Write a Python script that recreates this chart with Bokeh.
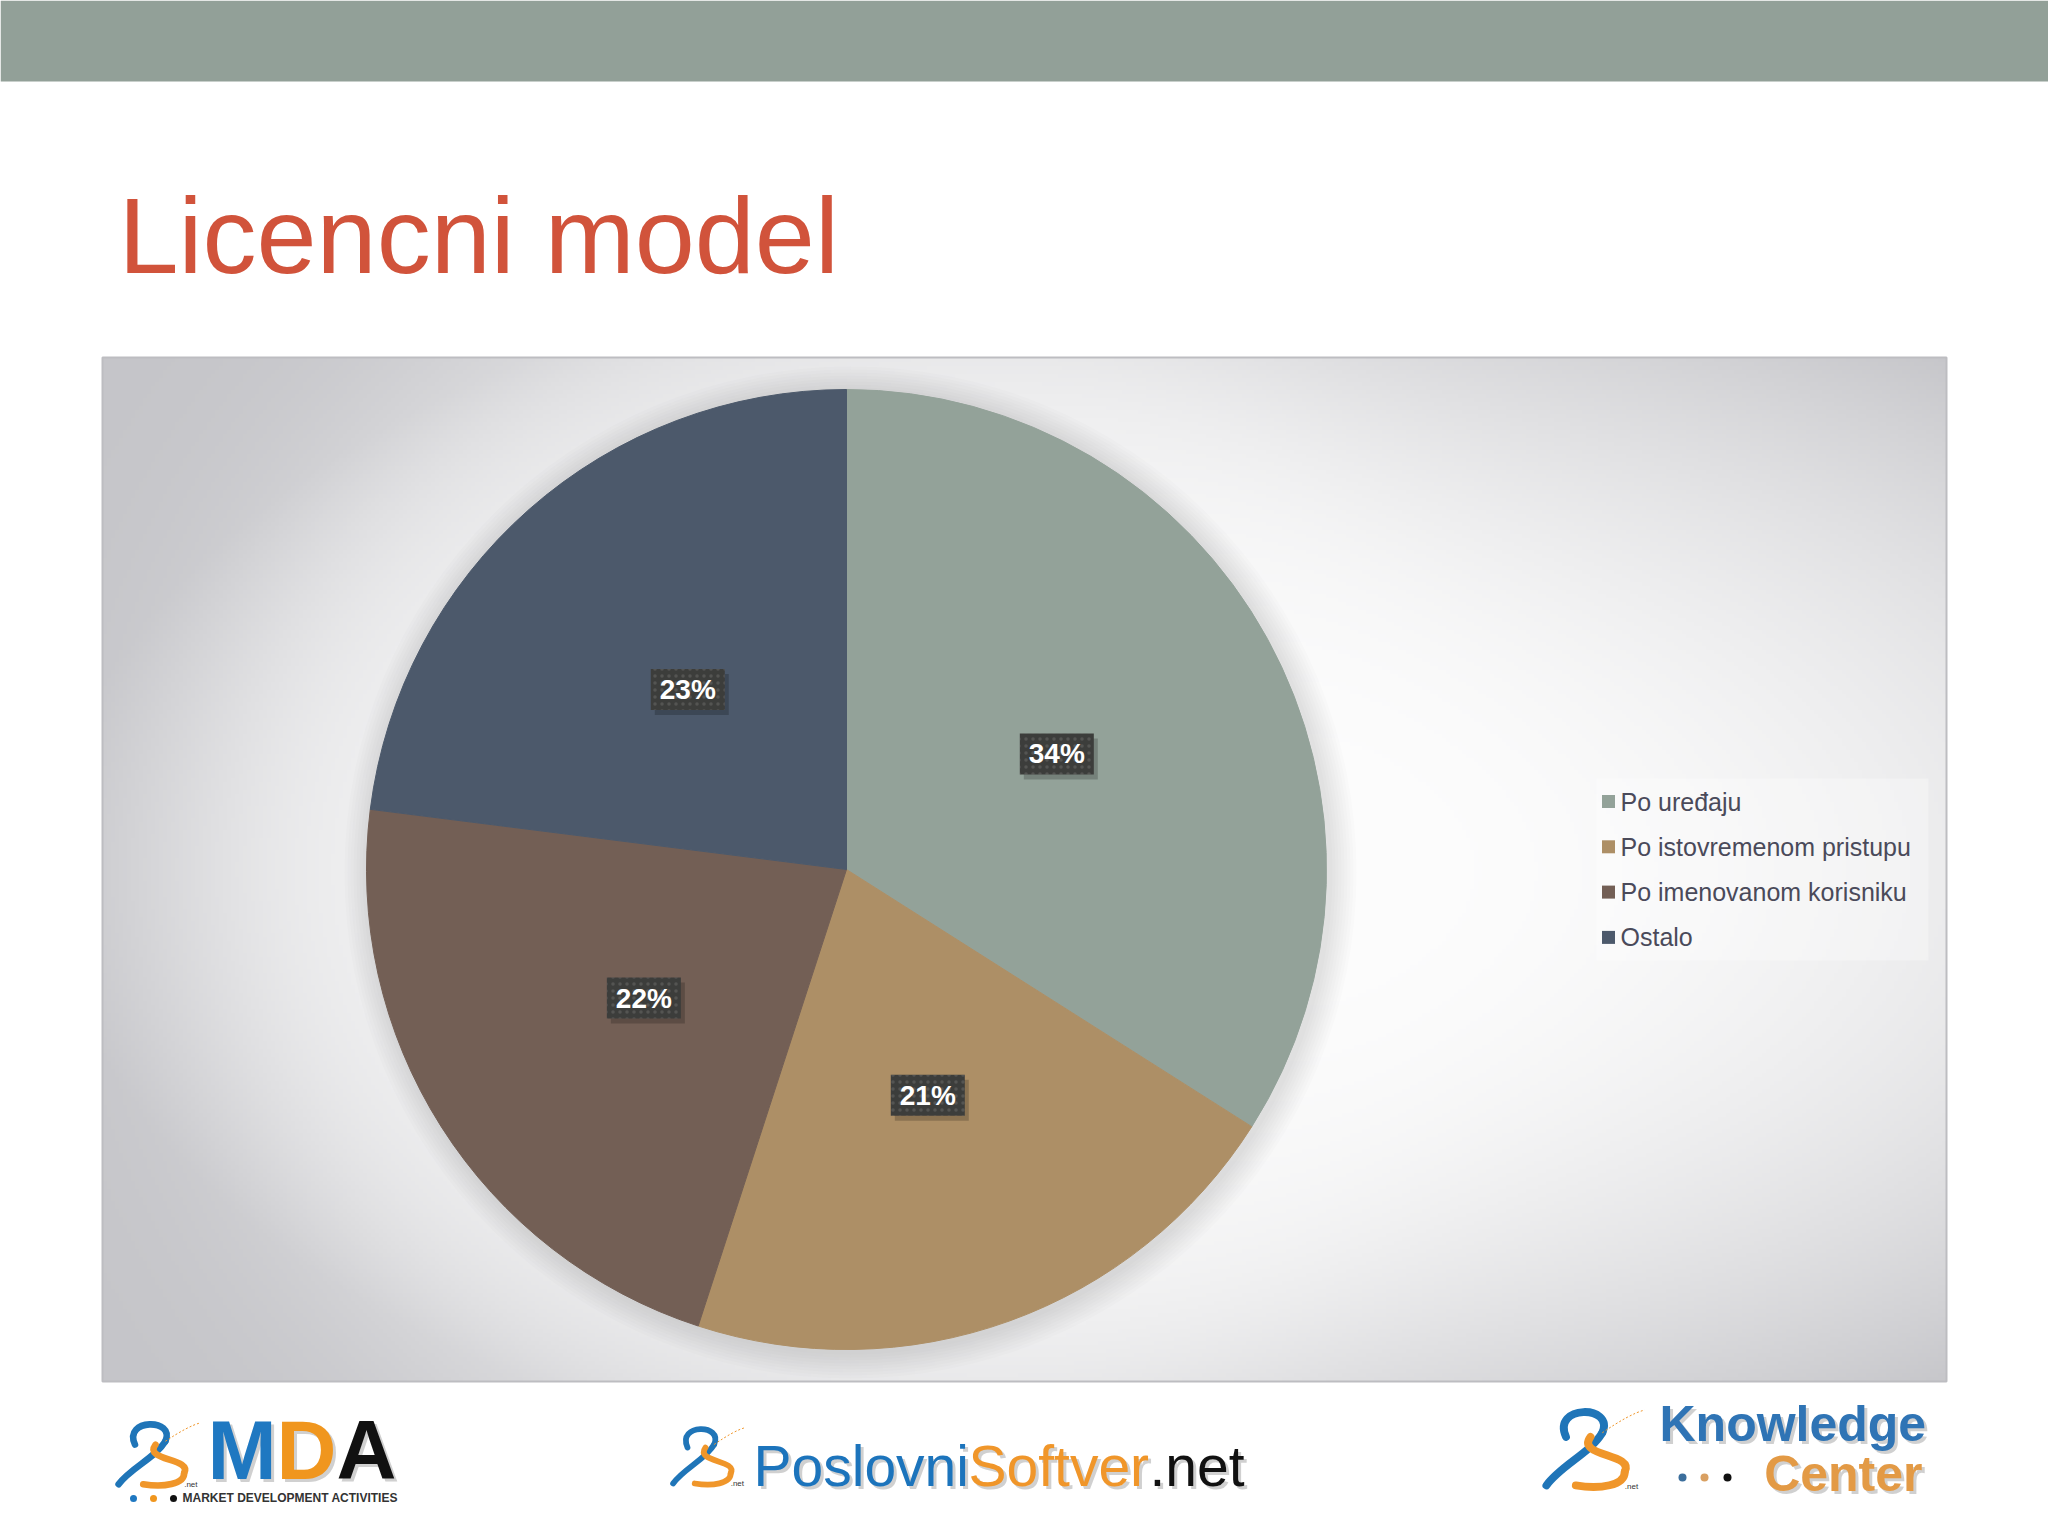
import numpy as np
from bokeh.plotting import figure
from bokeh.models import Range1d, ColumnDataSource
from bokeh.core.properties import value
from bokeh.embed import file_html
from bokeh.resources import INLINE

# ---------------- data ----------------
title_text = "Licencni model"
categories = ["Po uređaju", "Po istovremenom pristupu", "Po imenovanom korisniku", "Ostalo"]
shares = [34, 21, 22, 23]
pct_labels = ["34%", "21%", "22%", "23%"]
colors = ["#93A299", "#AD8F66", "#735F55", "#4C596B"]

FONT = value("Liberation Sans")
SHIFT = 0.36  # empirical baseline correction (fraction of font size)


def bl(y, size):
    """data y for a desired alphabetic baseline at page pixel y"""
    return -(np.asarray(y, dtype=float) - SHIFT * size)


# ---------------- figure (data units = page pixels, y negated) ----------------
PW, PH = 2048, 1520
p = figure(width=PW, height=PH, x_range=Range1d(0, PW), y_range=Range1d(-PH, 0),
           output_backend="svg", toolbar_location=None, min_border=0,
           x_axis_location=None, y_axis_location=None)
p.grid.visible = False
p.outline_line_color = None
p.background_fill_color = "white"
p.border_fill_color = "white"

# top bar
p.quad(left=0, right=PW, top=0, bottom=-81, fill_color="#92A098", line_color=None)

# title
p.text(x=[118], y=[bl(274, 108)], text=[title_text], text_font=FONT, text_font_size="108px",
       text_color="#D1533B", text_baseline="alphabetic", text_align="left")

# ---------------- chart area background ----------------
CX0, CY0, CW, CH = 102, 357, 1844, 1024
PCX, PCY, R = 846, 869, 480
nx, ny = 461, 256
xs = CX0 + (np.arange(nx) + 0.5) * CW / nx
ys = CY0 + CH - (np.arange(ny) + 0.5) * CH / ny
X, Y = np.meshgrid(xs, ys)
d = np.sqrt(((X - 1250) / 1200) ** 2 + ((Y - 870) / 640) ** 2)
t = np.clip(d, 0, 1) ** 2.2
rp = np.sqrt((X - PCX) ** 2 + (Y - PCY) ** 2)
glow = 0.5 * np.exp(-(np.maximum(rp - R, 0) / 200.0) ** 2)
t = t * (1 - glow)
img = np.empty((ny, nx), dtype=np.uint32)
view = img.view(dtype=np.uint8).reshape((ny, nx, 4))
view[..., 0] = (253 - 56 * t).astype(np.uint8)
view[..., 1] = (253 - 56 * t).astype(np.uint8)
view[..., 2] = (253 - 52 * t).astype(np.uint8)
view[..., 3] = 255
p.image_rgba(image=[img], x=CX0, y=-(CY0 + CH), dw=CW, dh=CH)
p.quad(left=CX0, right=CX0 + CW, top=-CY0, bottom=-(CY0 + CH), fill_color=None,
       line_color="#BDBDC1", line_width=2)

# soft pie shadow
for k in range(9):
    p.circle(x=[PCX + 4], y=[-(PCY + 3)], radius=R + 2 + 3 * k, fill_color="#8C8C8C",
             fill_alpha=0.022, line_color=None)

# ---------------- pie ----------------
frac = np.array(shares, dtype=float) / sum(shares)
cum = np.concatenate([[0.0], np.cumsum(frac)])
start = np.pi / 2 - 2 * np.pi * cum[:-1]
end = np.pi / 2 - 2 * np.pi * cum[1:]
src = ColumnDataSource(dict(start=start, end=end, color=colors, cat=categories))
p.wedge(x=PCX, y=-PCY, radius=R, start_angle="start", end_angle="end", direction="clock",
        fill_color="color", line_color="color", line_width=1, source=src)

# data labels
mid = (start + end) / 2
lx = PCX + 0.5 * R * np.cos(mid)
ly = -PCY + 0.5 * R * np.sin(mid)
p.rect(x=lx + 4, y=ly - 5, width=74, height=41, fill_color="black", fill_alpha=0.2, line_color=None)
p.rect(x=lx, y=ly, width=74, height=41, fill_color="#3C3D3B", line_color=None,
       hatch_pattern="dot", hatch_color="#8A8B88", hatch_scale=7, hatch_alpha=0.3, hatch_weight=1)
p.text(x=lx, y=ly - 10 + SHIFT * 28, text=pct_labels, text_font=FONT, text_font_style="bold",
       text_font_size="28px", text_color="white", text_align="center", text_baseline="alphabetic")

# ---------------- legend ----------------
p.quad(left=1596, right=1928, top=-778, bottom=-960, fill_color="white", fill_alpha=0.3, line_color=None)
rows = np.array([801 + 45.3 * i for i in range(len(categories))])
p.rect(x=1608, y=-rows, width=13, height=13, fill_color=colors, line_color=None)
p.text(x=1620, y=bl(rows + 9, 25), text=categories, text_font=FONT, text_font_size="25px",
       text_color="#4A4A5A", text_align="left", text_baseline="alphabetic")

# ---------------- logos ----------------
def swirl(x0, y0, w, h):
    lw = max(w * 0.08, 4)
    p.bezier(x0=[x0 + 0.25 * w, x0 + 0.62 * w], y0=[-(y0 + 0.35 * h), -(y0 + 0.3 * h)],
             x1=[x0 + 0.62 * w, x0 + 0.05 * w], y1=[-(y0 + 0.3 * h), -(y0 + 0.95 * h)],
             cx0=[x0 + 0.1 * w, x0 + 0.5 * w], cy0=[-(y0 - 0.05 * h), -(y0 + 0.55 * h)],
             cx1=[x0 + 0.75 * w, x0 + 0.2 * w], cy1=[-(y0 - 0.05 * h), -(y0 + 0.7 * h)],
             line_color="#1F75B8", line_width=lw, line_cap="round")
    p.bezier(x0=[x0 + 0.5 * w, x0 + 0.85 * w], y0=[-(y0 + 0.35 * h), -(y0 + 0.78 * h)],
             x1=[x0 + 0.85 * w, x0 + 0.35 * w], y1=[-(y0 + 0.78 * h), -(y0 + 0.95 * h)],
             cx0=[x0 + 0.35 * w, x0 + 0.85 * w], cy0=[-(y0 + 0.6 * h), -(y0 + 0.95 * h)],
             cx1=[x0 + 0.95 * w, x0 + 0.6 * w], cy1=[-(y0 + 0.55 * h), -(y0 + 1.0 * h)],
             line_color="#F0962A", line_width=lw, line_cap="round")
    p.bezier(x0=[x0 + 0.62 * w], y0=[-(y0 + 0.3 * h)], x1=[x0 + 1.05 * w], y1=[-(y0 + 0.02 * h)],
             cx0=[x0 + 0.8 * w], cy0=[-(y0 + 0.15 * h)], cx1=[x0 + 0.95 * w], cy1=[-(y0 + 0.05 * h)],
             line_color="#F0962A", line_width=1, line_dash="2 2")
    p.text(x=[x0 + 0.85 * w], y=[bl(y0 + h, 8)], text=[".net"], text_font=FONT, text_font_size="8px",
           text_color="#333333", text_baseline="alphabetic")


def word(x, y, s, size, color, bold=False, align="left", shadow=True):
    style = "bold" if bold else "normal"
    fs = f"{size}px"
    if shadow:
        p.text(x=[x + 3], y=[bl(y + 3, size)], text=[s], text_font=FONT, text_font_size=fs,
               text_font_style=style, text_color="#777777", text_alpha=0.35,
               text_align=align, text_baseline="alphabetic")
    p.text(x=[x], y=[bl(y, size)], text=[s], text_font=FONT, text_font_size=fs, text_font_style=style,
           text_color=color, text_align=align, text_baseline="alphabetic")

# MDA
swirl(114, 1421, 82, 66)
word(207, 1480, "M", 83, "#1F78C1", bold=True)
word(276, 1480, "D", 83, "#F0961E", bold=True)
word(336, 1480, "A", 83, "#111111", bold=True)
p.circle(x=[133, 153, 173], y=[-1498, -1498, -1498], radius=3.5,
         fill_color=["#1F78C1", "#F0961E", "#111111"], line_color=None)
p.text(x=[182], y=[bl(1502, 12)], text=["MARKET DEVELOPMENT ACTIVITIES"], text_font=FONT,
       text_font_size="12px", text_font_style="bold", text_color="#333333", text_baseline="alphabetic")

# PoslovniSoftver.net
swirl(669, 1426, 72, 60)
word(753, 1486, "Poslovni", 57, "#1C74BC")
word(968, 1486, "Softver", 57, "#F0962A")
word(1149, 1486, ".net", 57, "#111111")

# Knowledge Center
swirl(1541, 1408, 98, 81)
word(1659, 1441, "Knowledge", 50, "#2F74B5", bold=True)
word(1922, 1491, "Center", 50, "#E39A45", bold=True, align="right")
p.circle(x=[1682, 1704, 1727], y=[-1477, -1477, -1477], radius=4,
         fill_color=["#3B6E9C", "#D9A062", "#111111"], line_color=None)

open("out.html", "w").write(file_html(p, INLINE))
